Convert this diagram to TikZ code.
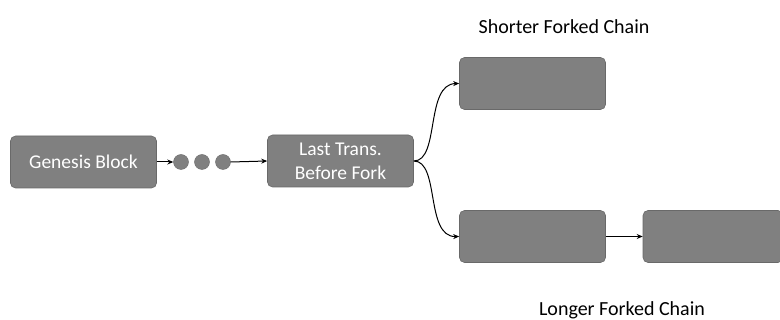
\documentclass[tikz,border=0pt]{standalone}
\usepackage{fontspec}
\setmainfont{Carlito}
\usetikzlibrary{arrows.meta}
\definecolor{boxgray}{RGB}{128,128,128}
\definecolor{boxedge}{RGB}{105,105,105}
\tikzset{
  blockbox/.style={draw=boxedge, fill=boxgray, rounded corners=5pt, line width=0.6pt,
    minimum width=146pt, minimum height=52pt, inner sep=0pt, text=white, font=\fontsize{19.5}{24}\selectfont, align=center},
  dotnode/.style={circle, draw=boxedge, fill=boxgray, minimum size=15pt, inner sep=0pt},
  link/.style={-{Stealth[length=6pt,width=5pt]}, line width=1pt, black},
  caption/.style={font=\fontsize{20}{24}\selectfont, text=black}
}
\begin{document}
\begin{tikzpicture}[x=1pt,y=-1pt]
\useasboundingbox (0,0) rectangle (780,320);
\node[blockbox] (gen) at (83.5,162) {Genesis Block};
\node[dotnode] (d1) at (181,162) {};
\node[dotnode] (d2) at (202,162) {};
\node[dotnode] (d3) at (223,162) {};
\node[blockbox] (last) at (340.5,161) {Last Trans.\\Before Fork};
\node[blockbox] (short) at (532.5,83.5) {};
\node[blockbox] (long1) at (532.5,236.5) {};
\node[blockbox, minimum width=140pt] (long2) at (713,236.5) {};
\node[caption] (capS) at (564,27) {Shorter Forked Chain};
\node[caption] (capL) at (622,310) {Longer Forked Chain};
\draw[link] (gen.east) -- (d1.west);
\draw[link] (d3.east) -- (last.west);
\draw[link] (last.east) .. controls (440,161) and (425,84) .. (short.west);
\draw[link] (last.east) .. controls (440,161) and (425,237) .. (long1.west);
\draw[link] (long1.east) -- (long2.west);
\end{tikzpicture}
\end{document}
